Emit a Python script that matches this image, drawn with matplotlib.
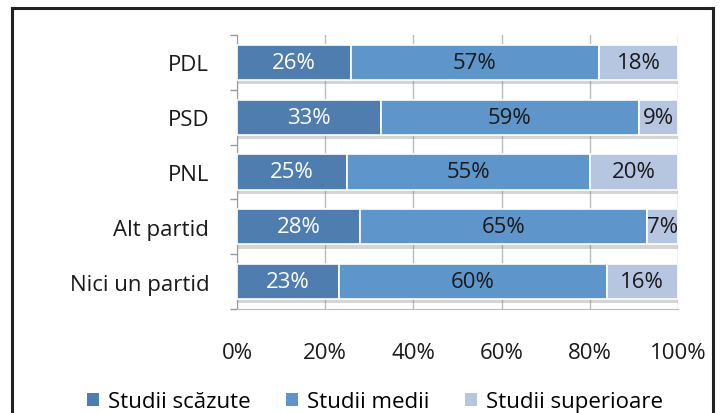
import matplotlib
matplotlib.use("Agg")
import matplotlib.pyplot as plt
import matplotlib.patheffects as pe
from matplotlib.lines import Line2D
from matplotlib.patches import Patch
import numpy as np

categories = ["PDL", "PSD", "PNL", "Alt partid", "Nici un partid"]
series_names = ["Studii scăzute", "Studii medii", "Studii superioare"]
scazute = [26, 33, 25, 28, 23]
medii = [57, 59, 55, 65, 60]
superioare = [18, 9, 20, 7, 16]
x_ticks = [0, 20, 40, 60, 80, 100]
x_tick_labels = ["0%", "20%", "40%", "60%", "80%", "100%"]

colors = ["#4F7DB0", "#5E96CB", "#B6C6E0"]
label_colors = ["white", "#1a1a1a", "#1a1a1a"]
FS = 16

plt.rcParams['font.family'] = ['Open Sans', 'DejaVu Sans']

fig = plt.figure(figsize=(7.22, 4.14), dpi=100)
W, H = 722, 414
fx = lambda px: px / W
fy = lambda py: 1 - py / H
for xs, ys in [([12, 12], [9, H + 5]), ([713, 713], [9, H + 5]), ([12, 713], [9, 9])]:
    fig.lines.append(Line2D([fx(v) for v in xs], [fy(v) for v in ys],
                            transform=fig.transFigure, color="#222222", linewidth=2.2,
                            solid_capstyle="projecting"))

ax = fig.add_axes([fx(237), fy(310), (678 - 237) / W, (310 - 36) / H])

data = np.array([scazute, medii, superioare], dtype=float)
totals = data.sum(axis=0)
norm = data / totals * 100
y = np.arange(len(categories))
left = np.zeros(len(categories))
shadow = [pe.SimplePatchShadow(offset=(1, -3), shadow_rgbFace="#888888", alpha=0.35), pe.Normal()]
for i in range(3):
    bars = ax.barh(y, norm[i], left=left, height=0.64, color=colors[i],
                   edgecolor="white", linewidth=1.2, zorder=3)
    for b in bars:
        b.set_path_effects(shadow)
    for j in range(len(categories)):
        ax.text(left[j] + norm[i][j] / 2, y[j], f"{int(data[i][j])}%",
                ha="center", va="center", fontsize=FS, color=label_colors[i], zorder=4)
    left += norm[i]

ax.set_xlim(0, 100)
ax.set_ylim(len(categories) - 0.5, -0.5)
ax.set_xticks(x_ticks)
ax.set_xticklabels(x_tick_labels, fontsize=FS, color="#1a1a1a")
ax.tick_params(axis="x", length=0, pad=24)
ax.set_yticks(y)
ax.set_yticklabels(categories, fontsize=FS, color="#1a1a1a")
ax.tick_params(axis="y", length=0, pad=20)
ax.set_yticks(np.arange(-0.5, len(categories), 1), minor=True)
ax.tick_params(axis="y", which="minor", length=5, color="#999999", width=1)
ax.grid(axis="x", color="#BBBBBB", linewidth=1, zorder=0)
for s in ["top", "right"]:
    ax.spines[s].set_visible(False)
ax.spines["left"].set_color("#999999")
ax.spines["bottom"].set_color("#BBBBBB")

handles = [Patch(facecolor=c, edgecolor="none") for c in colors]
fig.legend(handles, series_names, loc="center", bbox_to_anchor=(fx(375), fy(403)), ncol=3,
           frameon=False, fontsize=FS, handlelength=0.55, handleheight=0.55,
           handletextpad=0.4, columnspacing=1.6, borderpad=0)

fig.savefig("out.png", dpi=100)
